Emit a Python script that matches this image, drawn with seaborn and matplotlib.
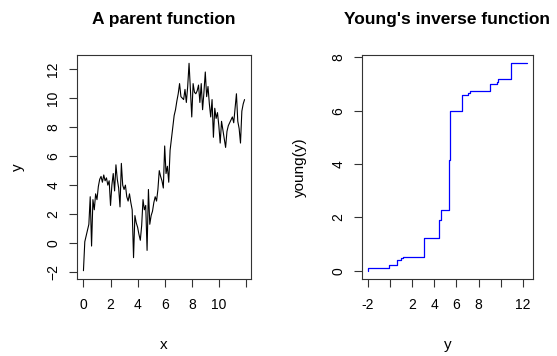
import numpy as np
import pandas as pd
import matplotlib
matplotlib.use("Agg")
import matplotlib.pyplot as plt
import seaborn as sns

# parent function (x step 0.1)
parent_x = np.round(np.arange(0, 12.0, 0.1), 1)
parent_y = [
    -1.9, 0.1, 0.5, 0.9, 1.3, 3.2, -0.2, 3.0, 2.3, 3.4,
    3.0, 3.9, 4.4, 4.6, 4.2, 4.7, 4.3, 4.5, 4.0, 4.3,
    2.6, 4.0, 4.8, 3.6, 5.4, 4.4, 3.8, 2.5, 5.5, 4.0,
    3.7, 4.0, 3.2, 2.9, 3.4, 2.8, 2.3, -1.0, 1.9, 1.4,
    1.1, 0.6, 0.2, 1.2, 3.0, 2.3, 2.6, -0.5, 3.7, 1.3,
    1.9, 2.2, 2.8, 3.2, 2.9, 3.7, 5.0, 4.6, 4.3, 3.8,
    6.7, 4.8, 5.3, 4.2, 6.4, 7.2, 8.0, 8.8, 9.2, 9.8,
    10.3, 11.0, 10.1, 10.0, 9.9, 10.6, 9.7, 10.8, 12.4, 10.6,
    8.7, 11.0, 10.4, 10.3, 10.5, 10.9, 9.7, 11.0, 9.2, 10.4,
    11.8, 10.1, 10.8, 9.6, 8.7, 9.9, 7.3, 9.3, 8.6, 9.0,
    8.1, 6.9, 8.4, 7.8, 7.2, 6.6, 7.7, 8.1, 8.3, 8.5,
    8.7, 8.3, 9.3, 10.3, 8.4, 7.9, 6.9, 9.1, 9.6, 9.9,
]

# Young's inverse function, step breakpoints (right panel)
young_x = [-1.95, -1.95, -0.05, 0.6, 0.99, 1.14, 3.06, 3.1, 4.39, 4.45, 4.57,
           5.34, 5.4, 6.55, 7.02, 7.2, 9.07, 9.66, 9.8, 10.9, 12.35]
young_y = [0.0, 0.1, 0.21, 0.4, 0.46, 0.52, 0.67, 1.21, 1.58, 1.9, 2.29,
           4.16, 6.0, 6.58, 6.65, 6.75, 6.99, 7.09, 7.19, 7.78, 7.78]

left_xticks = [0, 2, 4, 6, 8, 10, 12]
left_xlabels = ["0", "2", "4", "6", "8", "10", ""]
left_yticks = [-2, 0, 2, 4, 6, 8, 10, 12]
right_xticks = [-2, 0, 2, 4, 6, 8, 10, 12]
right_xlabels = ["-2", "", "2", "4", "6", "8", "", "12"]
right_yticks = [0, 2, 4, 6, 8]

sns.set_style("ticks")
plt.rcParams["font.family"] = ["Liberation Sans", "DejaVu Sans"]
plt.rcParams["axes.edgecolor"] = "#333333"
plt.rcParams["xtick.color"] = "#333333"
plt.rcParams["ytick.color"] = "#333333"
plt.rcParams["xtick.labelcolor"] = "black"
plt.rcParams["ytick.labelcolor"] = "black"
plt.rcParams["text.color"] = "black"
plt.rcParams["axes.labelcolor"] = "black"
plt.rcParams["axes.titlecolor"] = "black"


def r_lim(vals):
    lo, hi = min(vals), max(vals)
    d = (hi - lo) * 0.04
    return lo - d, hi + d


fig = plt.figure(figsize=(5.57, 3.56), dpi=100)
W, H = 557, 356
ax1 = fig.add_axes([77 / W, 1 - 279 / H, 174 / W, 224 / H])
ax2 = fig.add_axes([362 / W, 1 - 279 / H, 171 / W, 224 / H])

df1 = pd.DataFrame({"x": parent_x, "y": parent_y})
sns.lineplot(data=df1, x="x", y="y", ax=ax1, color="black", linewidth=0.8,
             estimator=None, sort=False)
ax1.set_xlim(*r_lim(parent_x))
ax1.set_ylim(*r_lim(parent_y))
ax1.set_xticks(left_xticks)
ax1.set_xticklabels(left_xlabels)
ax1.set_yticks(left_yticks)

df2 = pd.DataFrame({"y": young_x, "young": young_y})
sns.lineplot(data=df2, x="y", y="young", ax=ax2, color="#0000ff", linewidth=0.9,
             estimator=None, sort=False, drawstyle="steps-post")
ax2.set_xlim(*r_lim(young_x))
ax2.set_ylim(*r_lim(young_y))
ax2.set_xticks(right_xticks)
ax2.set_xticklabels(right_xlabels)
ax2.set_yticks(right_yticks)

for ax, title, xl, yl, ylx in [
    (ax1, "A parent function", "x", "y", -0.34),
    (ax2, "Young's inverse function", "y", "young(y)", -0.36),
]:
    for s in ax.spines.values():
        s.set_linewidth(0.8)
    ax.tick_params(length=6, width=0.8, labelsize=10)
    ax.tick_params(axis="x", pad=8)
    ax.tick_params(axis="y", pad=6)
    for lab in ax.get_yticklabels():
        lab.set_rotation(90)
        lab.set_va("center")
    ax.set_title(title, fontsize=12.5, fontweight="bold", pad=22)
    ax.set_xlabel(xl, fontsize=11)
    ax.set_ylabel(yl, fontsize=11, va="center")
    ax.xaxis.set_label_coords(0.5, -0.265)
    ax.yaxis.set_label_coords(ylx, 0.5)

fig.savefig("out.png", dpi=100)
